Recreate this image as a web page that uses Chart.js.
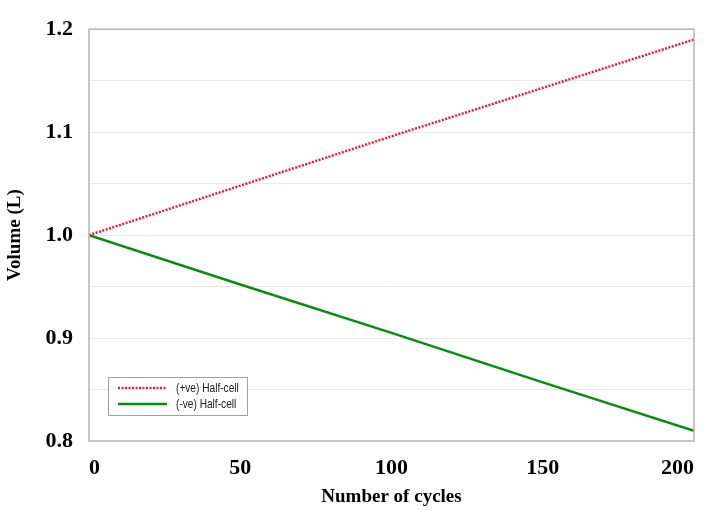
<!DOCTYPE html>
<html lang="en">
<head>
<meta charset="UTF-8">
<title>Volume vs cycles</title>
<script src="https://cdn.jsdelivr.net/npm/chart.js@4.4.0/dist/chart.umd.min.js"></script>
<style>
  html, body { margin: 0; padding: 0; background: #fff; }
  #wrap { width: 706px; height: 512px; }
</style>
</head>
<body>
<div id="wrap"><canvas id="volChart" width="706" height="512"></canvas></div>
<script>
// data
const cycles = [0, 50, 100, 150, 200];
const posHalf = [1.0, 1.048, 1.096, 1.143, 1.19];
const negHalf = [1.0, 0.952, 0.905, 0.857, 0.81];
const seriesNames = ['(+ve) Half-cell', '(-ve) Half-cell'];
const yTicks = [0.8, 0.9, 1.0, 1.1, 1.2];
const xTicks = [0, 50, 100, 150, 200];

const serif = "'Liberation Serif', 'Times New Roman', serif";

function toPoints(xs, ys) {
    return xs.map((x, i) => ({x: x, y: ys[i]}));
}

// frame around plot area + legend box inside the plot
const framePlugin = {
    id: 'frame',
    afterDraw(chart) {
        const ctx = chart.ctx;
        const a = chart.chartArea;
        ctx.save();
        ctx.strokeStyle = '#b4b4b4';
        ctx.lineWidth = 1.5;
        ctx.strokeRect(a.left, a.top, a.right - a.left, a.bottom - a.top);

        // legend
        const bx = 108, by = 377, bw = 139, bh = 38;
        ctx.fillStyle = '#fff';
        ctx.fillRect(bx, by, bw, bh);
        ctx.strokeStyle = '#a0a0a0';
        ctx.lineWidth = 1;
        ctx.strokeRect(bx + 0.5, by + 0.5, bw, bh);
        ctx.textBaseline = 'middle';
        chart.data.datasets.forEach((ds, i) => {
            const yy = by + 11 + i * 16;
            ctx.beginPath();
            ctx.strokeStyle = ds.borderColor;
            ctx.lineWidth = ds.borderWidth;
            ctx.setLineDash(ds.borderDash || []);
            ctx.moveTo(bx + 10, yy);
            ctx.lineTo(bx + 59, yy);
            ctx.stroke();
            ctx.setLineDash([]);
            // condensed look
            ctx.save();
            ctx.translate(bx + 68, yy);
            ctx.scale(0.78, 1);
            ctx.font = "13px 'Liberation Sans', Arial, sans-serif";
            ctx.fillStyle = '#222';
            ctx.fillText(ds.label, 0, 0);
            ctx.restore();
        });
        ctx.restore();
    }
};

let ctx = document.getElementById('volChart');
let myChart = new Chart(ctx, {
    type: 'line',
    data: {
        datasets: [{
            label: seriesNames[0],
            data: toPoints(cycles, posHalf),
            borderColor: '#e0203a',
            borderWidth: 2.5,
            borderDash: [2, 1.5],
            pointRadius: 0,
            fill: false,
            tension: 0
        }, {
            label: seriesNames[1],
            data: toPoints(cycles, negHalf),
            borderColor: '#0a8a10',
            borderWidth: 2.5,
            pointRadius: 0,
            fill: false,
            tension: 0
        }]
    },
    options: {
        responsive: false,
        animation: false,
        layout: { padding: { top: 25, right: 12, left: 0, bottom: 0 } },
        plugins: {
            legend: { display: false },
            tooltip: { enabled: false }
        },
        scales: {
            x: {
                type: 'linear',
                min: 0,
                max: 200,
                border: { display: false },
                grid: { display: false },
                ticks: {
                    stepSize: 25,
                    autoSkip: false,
                    maxRotation: 0,
                    align: 'inner',
                    padding: 6,
                    color: '#000',
                    font: { family: serif, size: 22, weight: 'bold' },
                    callback: v => xTicks.includes(v) ? String(v) : ''
                },
                title: {
                    display: true,
                    text: 'Number of cycles',
                    color: '#000',
                    font: { family: serif, size: 19, weight: 'bold' },
                    padding: { top: 16 }
                },
                afterFit(scale) {
                    scale.height = 71;
                    scale.paddingLeft = 0;
                    scale.paddingRight = 0;
                }
            },
            y: {
                min: 0.8,
                max: 1.2,
                border: { display: false },
                grid: { color: '#e8e8e8', lineWidth: 1, drawTicks: false },
                ticks: {
                    stepSize: 0.05,
                    autoSkip: false,
                    padding: 16,
                    color: '#000',
                    font: { family: serif, size: 22, weight: 'bold' },
                    callback: v => {
                        const r = Math.round(v * 100) / 100;
                        return yTicks.some(t => Math.abs(t - r) < 1e-6) ? r.toFixed(1) : '';
                    }
                },
                title: {
                    display: true,
                    text: 'Volume (L)',
                    color: '#000',
                    font: { family: serif, size: 19, weight: 'bold' },
                    padding: { bottom: 0 }
                },
                afterFit(scale) { scale.width = 89; }
            }
        }
    },
    plugins: [framePlugin]
});
</script>
</body>
</html>
